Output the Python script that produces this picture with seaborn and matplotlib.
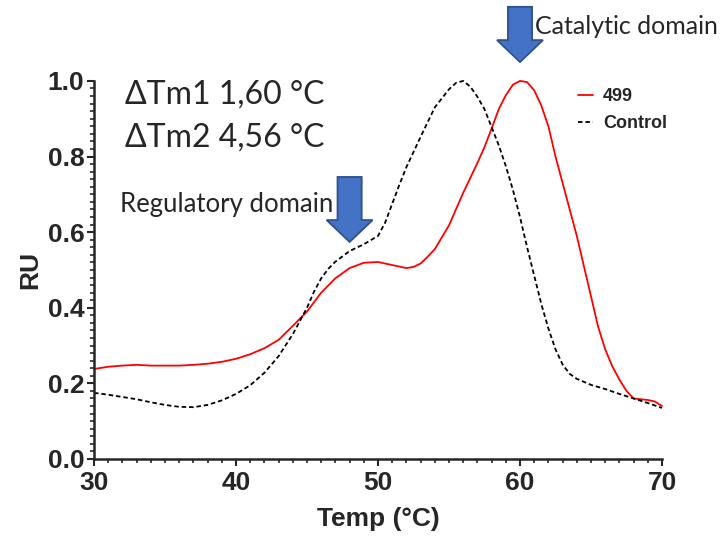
import pandas as pd
import numpy as np
import matplotlib
matplotlib.use("Agg")
import matplotlib.pyplot as plt
from matplotlib.patches import FancyArrow
import seaborn as sns

# Melt curves (Temp in C, normalised RU)
temp_499 = [30, 31, 32, 33, 34, 35, 36, 37, 38, 39, 40, 41, 42, 43, 44, 45, 46, 47, 48, 49,
            50, 51, 52, 52.5, 53, 53.5, 54, 55, 56, 57, 57.5, 58, 58.5, 59, 59.5, 60, 60.5,
            61, 61.5, 62, 62.5, 63, 63.5, 64, 64.5, 65, 65.5, 66, 66.5, 67, 67.5, 68, 68.5,
            69, 69.5, 70]
ru_499 = [0.238, 0.244, 0.247, 0.249, 0.247, 0.247, 0.247, 0.249, 0.252, 0.257, 0.265, 0.277,
          0.293, 0.315, 0.352, 0.39, 0.44, 0.478, 0.505, 0.519, 0.521, 0.513, 0.505, 0.508,
          0.517, 0.535, 0.555, 0.618, 0.704, 0.783, 0.825, 0.874, 0.925, 0.962, 0.99, 1.0,
          0.997, 0.975, 0.935, 0.88, 0.8, 0.73, 0.66, 0.59, 0.51, 0.43, 0.35, 0.29, 0.245,
          0.21, 0.18, 0.16, 0.158, 0.156, 0.152, 0.14]

temp_ctrl = [30, 31, 32, 33, 34, 35, 36, 37, 38, 39, 40, 41, 42, 43, 44, 45, 45.5, 46, 46.5,
             47, 48, 49, 50, 50.5, 51, 51.5, 52, 53, 54, 55, 55.5, 56, 56.5, 57, 57.5, 58,
             58.5, 59, 59.5, 60, 60.5, 61, 61.5, 62, 62.5, 63, 63.5, 64, 65, 66, 67, 68, 69, 70]
ru_ctrl = [0.175, 0.17, 0.164, 0.158, 0.15, 0.143, 0.138, 0.137, 0.143, 0.155, 0.172, 0.195,
           0.228, 0.272, 0.33, 0.4, 0.443, 0.478, 0.503, 0.522, 0.55, 0.568, 0.59, 0.625,
           0.675, 0.725, 0.772, 0.852, 0.93, 0.978, 0.995, 1.0, 0.985, 0.958, 0.925, 0.878,
           0.83, 0.775, 0.712, 0.64, 0.56, 0.485, 0.41, 0.345, 0.29, 0.25, 0.225, 0.212,
           0.196, 0.185, 0.172, 0.16, 0.148, 0.135]

df_499 = pd.DataFrame({"Temp": temp_499, "RU": ru_499})
df_ctrl = pd.DataFrame({"Temp": temp_ctrl, "RU": ru_ctrl})

sns.set_style("ticks")
plt.rcParams["font.family"] = ["Liberation Sans", "DejaVu Sans"]

fig = plt.figure(figsize=(7.27, 5.36), dpi=100)
ax = fig.add_axes([0.1293, 0.1437, 0.7813, 0.7053])

sns.lineplot(data=df_499, x="Temp", y="RU", color="#ff0000", lw=1.3, label="499", ax=ax,
             clip_on=False)
sns.lineplot(data=df_ctrl, x="Temp", y="RU", color="black", lw=1.3, label="Control", ax=ax,
             clip_on=False)
ax.lines[1].set_dashes((2.5, 1.6))

ax.set_xlim(30, 70)
ax.set_ylim(0, 1.0)
ax.set_xticks([30, 40, 50, 60, 70])
ax.set_yticks([0.0, 0.2, 0.4, 0.6, 0.8, 1.0])
ax.set_yticklabels(["0.0", "0.2", "0.4", "0.6", "0.8", "1.0"])
ax.set_xticks(np.arange(30, 71, 1), minor=True)
ax.set_yticks(np.arange(0, 1.001, 0.02), minor=True)
ax.tick_params(axis="both", which="major", labelsize=19, width=1.5, length=5)
ax.tick_params(axis="x", which="major", pad=4)
ax.tick_params(axis="y", which="major", pad=2)
ax.tick_params(axis="both", which="minor", width=1.2, length=3)
for lab in ax.get_xticklabels() + ax.get_yticklabels():
    lab.set_fontweight("bold")
for s in ["left", "bottom"]:
    ax.spines[s].set_linewidth(1.8)
sns.despine(ax=ax)

ax.set_xlabel("Temp (°C)", fontsize=19, fontweight="bold", labelpad=8)
ax.set_ylabel("RU", fontsize=19, fontweight="bold", labelpad=4)

leg = ax.legend(loc="upper left", bbox_to_anchor=(0.852, 0.98), frameon=False,
                borderpad=0, borderaxespad=0, handlelength=0.85, handletextpad=0.55,
                labelspacing=0.55, prop={"weight": "bold", "size": 13})

# annotations
txt_font = ["Lato", "DejaVu Sans"]
ax.text(32.2, 0.963, "ΔTm1 1,60 °C", fontsize=23, family=txt_font, va="center", ha="left")
ax.text(32.2, 0.849, "ΔTm2 4,56 °C", fontsize=23, family=txt_font, va="center", ha="left")
ax.text(46.85, 0.672, "Regulatory domain", fontsize=18.5, family=txt_font, va="center",
        ha="right")
ax.text(61.05, 1.143, "Catalytic domain", fontsize=18, family=txt_font, va="center", ha="left",
        clip_on=False)

for x0, y_top, y_tip in [(48.0, 0.746, 0.574), (60.0, 1.196, 1.050)]:
    arr = FancyArrow(x0, y_top, 0, y_tip - y_top, width=1.7, head_width=3.24,
                     head_length=0.058, length_includes_head=True,
                     facecolor="#4472c4", edgecolor="#2f528f", lw=1.3, clip_on=False,
                     zorder=5)
    ax.add_patch(arr)

fig.savefig("out.png", dpi=100)
